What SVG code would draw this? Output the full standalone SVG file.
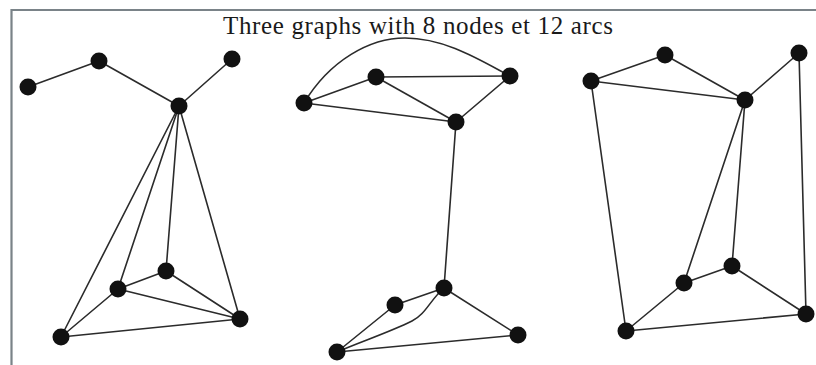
<svg xmlns="http://www.w3.org/2000/svg" width="816" height="365" viewBox="0 0 816 365">
  <style>
    .edge { stroke: #2b2b2b; stroke-width: 1.6; fill: none; stroke-linecap: round; }
    .node { fill: #111; }
    .frame { stroke: #7a8388; stroke-width: 2.2; fill: none; }
    .title { font-family: "Liberation Serif", "Times New Roman", serif; font-size: 25px; fill: #1a1a1a; }
  </style>
  <rect width="816" height="365" fill="#ffffff"/>
  <path class="frame" d="M11.5,365 L11.5,10 L816,10"/>
  <text class="title" x="223" y="33.5" textLength="390" lengthAdjust="spacing">Three graphs with 8 nodes et 12 arcs</text>

  <g id="connectors">
    <!-- graph 1 -->
    <line class="edge" x1="28" y1="87" x2="99" y2="61"/>
    <line class="edge" x1="99" y1="61" x2="179" y2="106"/>
    <line class="edge" x1="232" y1="59" x2="179" y2="106"/>
    <line class="edge" x1="179" y1="106" x2="61" y2="337"/>
    <line class="edge" x1="179" y1="106" x2="118" y2="289"/>
    <line class="edge" x1="179" y1="106" x2="166" y2="271"/>
    <line class="edge" x1="179" y1="106" x2="240" y2="319"/>
    <line class="edge" x1="118" y1="289" x2="166" y2="271"/>
    <line class="edge" x1="118" y1="289" x2="240" y2="319"/>
    <line class="edge" x1="166" y1="271" x2="240" y2="319"/>
    <line class="edge" x1="61" y1="337" x2="118" y2="289"/>
    <line class="edge" x1="61" y1="337" x2="240" y2="319"/>
    <!-- graph 2 -->
    <path class="edge" d="M304,103 C330,60 370,38 405,38 C445,38 480,60 510,76"/>
    <line class="edge" x1="304" y1="103" x2="376" y2="77"/>
    <line class="edge" x1="304" y1="103" x2="456" y2="122"/>
    <line class="edge" x1="376" y1="77" x2="510" y2="76"/>
    <line class="edge" x1="376" y1="77" x2="456" y2="122"/>
    <line class="edge" x1="510" y1="76" x2="456" y2="122"/>
    <line class="edge" x1="456" y1="122" x2="444" y2="288"/>
    <line class="edge" x1="444" y1="288" x2="395" y2="305"/>
    <line class="edge" x1="444" y1="288" x2="518" y2="335"/>
    <line class="edge" x1="395" y1="305" x2="337" y2="352"/>
    <path class="edge" d="M444,288 C430,300 426,314 412,321 C390,332 360,342 337,352"/>
    <line class="edge" x1="337" y1="352" x2="518" y2="335"/>
    <!-- graph 3 -->
    <line class="edge" x1="591" y1="81" x2="665" y2="55"/>
    <line class="edge" x1="665" y1="55" x2="745" y2="100"/>
    <line class="edge" x1="591" y1="81" x2="745" y2="100"/>
    <line class="edge" x1="799" y1="53" x2="745" y2="100"/>
    <line class="edge" x1="799" y1="53" x2="806" y2="314"/>
    <line class="edge" x1="591" y1="81" x2="626" y2="331"/>
    <line class="edge" x1="745" y1="100" x2="684" y2="283"/>
    <line class="edge" x1="745" y1="100" x2="732" y2="266"/>
    <line class="edge" x1="684" y1="283" x2="732" y2="266"/>
    <line class="edge" x1="732" y1="266" x2="806" y2="314"/>
    <line class="edge" x1="684" y1="283" x2="626" y2="331"/>
    <line class="edge" x1="626" y1="331" x2="806" y2="314"/>
  </g>

  <g id="g1-n1"><circle class="node" cx="28" cy="87" r="8.5"/></g>
  <g id="g1-n2"><circle class="node" cx="99" cy="61" r="8.5"/></g>
  <g id="g1-n3"><circle class="node" cx="232" cy="59" r="8.5"/></g>
  <g id="g1-n4"><circle class="node" cx="179" cy="106" r="8.5"/></g>
  <g id="g1-n5"><circle class="node" cx="166" cy="271" r="8.5"/></g>
  <g id="g1-n6"><circle class="node" cx="118" cy="289" r="8.5"/></g>
  <g id="g1-n7"><circle class="node" cx="240" cy="319" r="8.5"/></g>
  <g id="g1-n8"><circle class="node" cx="61" cy="337" r="8.5"/></g>

  <g id="g2-n1"><circle class="node" cx="304" cy="103" r="8.5"/></g>
  <g id="g2-n2"><circle class="node" cx="376" cy="77" r="8.5"/></g>
  <g id="g2-n3"><circle class="node" cx="510" cy="76" r="8.5"/></g>
  <g id="g2-n4"><circle class="node" cx="456" cy="122" r="8.5"/></g>
  <g id="g2-n5"><circle class="node" cx="444" cy="288" r="8.5"/></g>
  <g id="g2-n6"><circle class="node" cx="395" cy="305" r="8.5"/></g>
  <g id="g2-n7"><circle class="node" cx="518" cy="335" r="8.5"/></g>
  <g id="g2-n8"><circle class="node" cx="337" cy="352" r="8.5"/></g>

  <g id="g3-n1"><circle class="node" cx="591" cy="81" r="8.5"/></g>
  <g id="g3-n2"><circle class="node" cx="665" cy="55" r="8.5"/></g>
  <g id="g3-n3"><circle class="node" cx="799" cy="53" r="8.5"/></g>
  <g id="g3-n4"><circle class="node" cx="745" cy="100" r="8.5"/></g>
  <g id="g3-n5"><circle class="node" cx="732" cy="266" r="8.5"/></g>
  <g id="g3-n6"><circle class="node" cx="684" cy="283" r="8.5"/></g>
  <g id="g3-n7"><circle class="node" cx="806" cy="314" r="8.5"/></g>
  <g id="g3-n8"><circle class="node" cx="626" cy="331" r="8.5"/></g>
</svg>
